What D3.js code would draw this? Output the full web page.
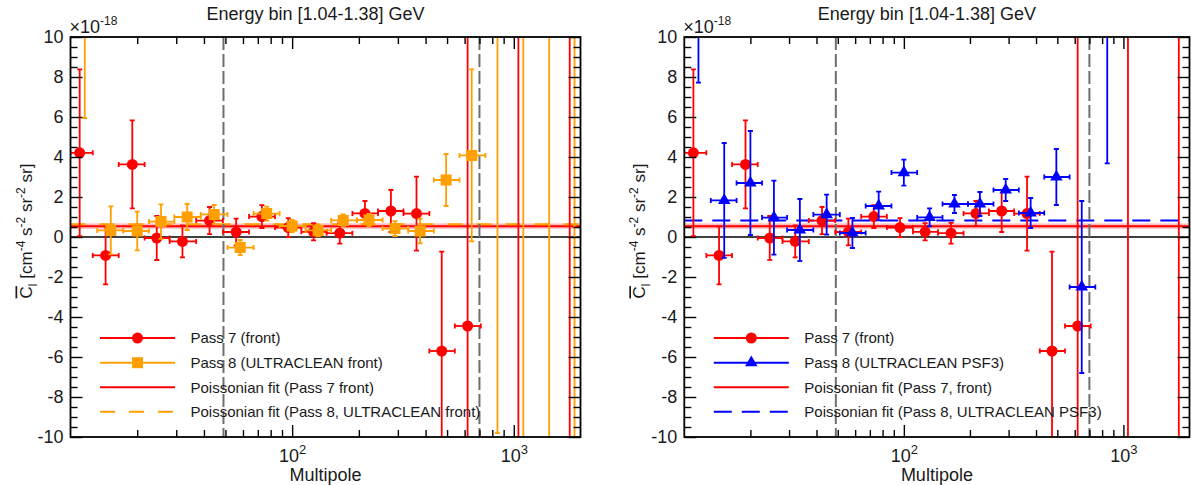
<!DOCTYPE html>
<html><head><meta charset="utf-8">
<script src="https://cdn.jsdelivr.net/npm/d3@7"></script>
<style>
body{margin:0;background:#fff;}
svg{display:block;font-family:"Liberation Sans",Arial,Helvetica,sans-serif;}
</style></head><body>
<svg id="chart" width="1191" height="485"></svg>
<script>
// ================= DATA =================
const titleText = "Energy bin [1.04-1.38] GeV";
const xLabelText = "Multipole";
const xMajorTicks = [100, 1000];
const xMajorExp = ["2", "3"];
const yMajorTicks = [-10, -8, -6, -4, -2, 0, 2, 4, 6, 8, 10];
const yTickLabels = ["-10", "-8", "-6", "-4", "-2", "0", "2", "4", "6", "8", "10"];
const yScaleExp = "-18";
const cutLines = [49, 700];

// Pass 7 (front) - same in both panels
const p7_l    = [11.0, 14.4, 19.0, 24.5, 32.0, 42.4, 55.9, 73.0, 96.0, 125, 164, 213, 279, 364, 473, 619, 1049, 1788];
const p7_lmin = [10.0, 12.6, 16.5, 21.6, 28.0, 36.9, 48.7, 63.9, 83.7, 110, 143, 187, 244, 318, 416, 542, 928, 1568];
const p7_lmax = [12.6, 16.5, 21.6, 28.0, 36.9, 48.7, 63.9, 83.7, 110, 143, 187, 244, 318, 416, 542, 710, 1212, 2045];
const p7_c    = [4.21, -0.92, 3.63, -0.05, -0.22, 0.82, 0.25, 1.02, 0.47, 0.26, 0.19, 1.18, 1.30, 1.17, -5.70, -4.45, 18, -16];
const p7_err  = [4.17, 1.45, 2.20, 1.10, 0.80, 0.68, 0.67, 0.57, 0.47, 0.43, 0.52, 0.62, 1.05, 1.85, 4.97, 16, 35, 35];

// Pass 8 binning (shared by both Pass 8 selections)
const p8_l    = [11.6, 15.2, 20.0, 25.6, 33.6, 44.5, 58.3, 76.8, 100, 131, 170, 222, 291, 378, 495, 646, 844, 1104, 1445, 1880];
const p8_lmin = [10.5, 13.2, 17.3, 22.6, 29.4, 38.7, 51.1, 67.0, 87.8, 115, 150, 196, 256, 334, 436, 569, 745, 974, 1271, 1645];
const p8_lmax = [13.2, 17.3, 22.6, 29.4, 38.7, 51.1, 67.0, 87.8, 115, 150, 196, 256, 334, 436, 569, 745, 974, 1271, 1645, 2145];

// Pass 8 (ULTRACLEAN front)
const p8f_c   = [13, 0.33, 0.30, 0.77, 1.00, 1.13, -0.53, 1.17, 0.55, 0.33, 0.83, 0.85, 0.42, 0.30, 2.85, 4.08, 14, -15, 20, -20];
const p8f_err = [7.05, 1.20, 0.97, 0.86, 0.65, 0.47, 0.38, 0.35, 0.30, 0.30, 0.30, 0.30, 0.37, 0.62, 1.30, 4.30, 23.8, 30, 40, 40];

// Pass 8 (ULTRACLEAN PSF3)
const p8p_c   = [14, 1.83, 2.70, 0.97, 0.35, 1.12, 0.20, 1.55, 3.22, 0.98, 1.65, 1.65, 2.35, 1.20, 3.00, -2.50, 15];
const p8p_err = [6.28, 2.87, 2.60, 1.85, 1.55, 1.00, 0.75, 0.72, 0.65, 0.45, 0.45, 0.60, 0.55, 0.75, 1.40, 4.30, 11.32];

// Poissonian fits
const fitP7 = 0.54, fitP7Lo = 0.41, fitP7Hi = 0.68;
const fitP8front = 0.64;
const fitP8psf3 = 0.83;

// ================= STYLE / LAYOUT =================
const RED = "#ff0000", ORANGE = "#ffa000", BLUE = "#0000ff", GRAY = "#6e6e6e";
const yTop = 37, yBot = 437;
const FONT = 18;

const svg = d3.select("#chart");

const seriesP7 = {l: p7_l, lmin: p7_lmin, lmax: p7_lmax, c: p7_c, err: p7_err, color: RED, sym: d3.symbolCircle, size: 95};
const seriesP8F = {l: p8_l, lmin: p8_lmin, lmax: p8_lmax, c: p8f_c, err: p8f_err, color: ORANGE, sym: d3.symbolSquare, size: 121};
const seriesP8P = {l: p8_l, lmin: p8_lmin, lmax: p8_lmax, c: p8p_c, err: p8p_err, color: BLUE, sym: d3.symbolTriangle, size: 68};

const panels = [
  {id: "L", x0: 70.5, x1: 580.5, series: [seriesP7, seriesP8F],
   fits: [{v: fitP8front, color: ORANGE, dash: "15,14"}],
   legend: [
     {t: "Pass 7 (front)", color: RED, sym: d3.symbolCircle, size: 95},
     {t: "Pass 8 (ULTRACLEAN front)", color: ORANGE, sym: d3.symbolSquare, size: 121},
     {t: "Poissonian fit (Pass 7 front)", color: RED},
     {t: "Poissonian fit (Pass 8, ULTRACLEAN front)", color: ORANGE, dash: "15,14"}
   ]},
  {id: "R", x0: 684.3, x1: 1189.5, series: [seriesP7, seriesP8P],
   fits: [{v: fitP8psf3, color: BLUE, dash: "18,10"}],
   legend: [
     {t: "Pass 7 (front)", color: RED, sym: d3.symbolCircle, size: 95},
     {t: "Pass 8 (ULTRACLEAN PSF3)", color: BLUE, sym: d3.symbolTriangle, size: 68},
     {t: "Poissonian fit (Pass 7, front)", color: RED},
     {t: "Poissonian fit (Pass 8, ULTRACLEAN PSF3)", color: BLUE, dash: "18,10"}
   ]}
];

const defs = svg.append("defs");

panels.forEach(p => {
  const x = d3.scaleLog().domain([10, 2000]).range([p.x0, p.x1]);
  const y = d3.scaleLinear().domain([-10, 10]).range([yBot, yTop]);
  const g = svg.append("g");
  defs.append("clipPath").attr("id", "clip" + p.id)
    .append("rect").attr("x", p.x0).attr("y", yTop).attr("width", p.x1 - p.x0).attr("height", yBot - yTop);
  const plot = g.append("g").attr("clip-path", `url(#clip${p.id})`);

  // Pass 7 fit band + line
  plot.append("rect").attr("x", p.x0).attr("width", p.x1 - p.x0)
    .attr("y", y(fitP7Hi)).attr("height", y(fitP7Lo) - y(fitP7Hi)).attr("fill", "#ffbcbc");
  plot.append("line").attr("x1", p.x0).attr("x2", p.x1).attr("y1", y(fitP7)).attr("y2", y(fitP7))
    .attr("stroke", RED).attr("stroke-width", 2);
  p.fits.forEach(f => {
    plot.append("line").attr("x1", p.x0).attr("x2", p.x1).attr("y1", y(f.v)).attr("y2", y(f.v))
      .attr("stroke", f.color).attr("stroke-width", 2).attr("stroke-dasharray", f.dash);
  });
  // zero line
  plot.append("line").attr("x1", p.x0).attr("x2", p.x1).attr("y1", y(0)).attr("y2", y(0))
    .attr("stroke", "#000").attr("stroke-width", 1.4);
  // cut lines
  plot.selectAll("line.cut").data(cutLines).join("line").attr("class", "cut")
    .attr("x1", d => x(d)).attr("x2", d => x(d)).attr("y1", yTop).attr("y2", yBot)
    .attr("stroke", GRAY).attr("stroke-width", 2).attr("stroke-dasharray", "13,4");

  // data series
  p.series.forEach(s => {
    const idx = d3.range(s.c.length);
    const sg = plot.append("g").attr("stroke", s.color).attr("stroke-width", 1.8).attr("fill", "none");
    idx.forEach(i => {
      const cx = x(s.l[i]), cy = y(s.c[i]);
      const yl = y(s.c[i] - s.err[i]), yh = y(s.c[i] + s.err[i]);
      const xl = x(s.lmin[i]), xh = x(s.lmax[i]);
      sg.append("line").attr("x1", cx).attr("x2", cx).attr("y1", yl).attr("y2", yh);
      sg.append("line").attr("x1", cx - 2.5).attr("x2", cx + 2.5).attr("y1", yl).attr("y2", yl);
      sg.append("line").attr("x1", cx - 2.5).attr("x2", cx + 2.5).attr("y1", yh).attr("y2", yh);
      sg.append("line").attr("x1", xl).attr("x2", xh).attr("y1", cy).attr("y2", cy);
      sg.append("line").attr("x1", xl).attr("x2", xl).attr("y1", cy - 2.5).attr("y2", cy + 2.5);
      sg.append("line").attr("x1", xh).attr("x2", xh).attr("y1", cy - 2.5).attr("y2", cy + 2.5);
    });
    plot.append("g").selectAll("path").data(idx).join("path")
      .attr("d", d3.symbol().type(s.sym).size(s.size))
      .attr("transform", i => `translate(${x(s.l[i])},${y(s.c[i])})`)
      .attr("fill", s.color);
  });

  // legend
  const lg = g.append("g");
  const legY = [338, 362.7, 387.3, 411.7];
  p.legend.forEach((e, k) => {
    const ly = legY[k];
    lg.append("line").attr("x1", p.x0 + 29.5).attr("x2", p.x0 + 104.5).attr("y1", ly).attr("y2", ly)
      .attr("stroke", e.color).attr("stroke-width", 2).attr("stroke-dasharray", e.dash || null);
    if (e.sym) lg.append("path").attr("d", d3.symbol().type(e.sym).size(e.size)())
      .attr("transform", `translate(${p.x0 + 67},${ly})`).attr("fill", e.color);
    lg.append("text").attr("x", p.x0 + 120).attr("y", ly + 5.3).attr("font-size", 15).attr("fill", "#1a1a1a").text(e.t);
  });

  // frame
  g.append("rect").attr("x", p.x0).attr("y", yTop).attr("width", p.x1 - p.x0).attr("height", yBot - yTop)
    .attr("fill", "none").attr("stroke", "#000").attr("stroke-width", 1.8);

  // axes
  const yMinor = y.ticks(40).filter(v => yMajorTicks.indexOf(v) < 0);
  const xMinor = x.ticks().filter(v => xMajorTicks.indexOf(v) < 0 && v > 10 && v < 2000);
  const clean = a => { a.select(".domain").remove(); a.selectAll("line").attr("stroke", "#000").attr("stroke-width", 1.4); };

  const left = g.append("g").attr("transform", `translate(${p.x0},0)`)
    .call(d3.axisLeft(y).tickValues(yMajorTicks).tickSize(-12).tickPadding(7).tickFormat((d, i) => yTickLabels[i]));
  clean(left);
  left.attr("font-size", FONT).attr("font-family", null);
  left.selectAll("text").attr("fill", "#1a1a1a");
  g.append("g").attr("transform", `translate(${p.x0},0)`)
    .call(d3.axisLeft(y).tickValues(yMinor).tickSize(-7).tickFormat("")).call(clean);
  g.append("g").attr("transform", `translate(${p.x1},0)`)
    .call(d3.axisRight(y).tickValues(yMajorTicks).tickSize(-12).tickFormat("")).call(clean);
  g.append("g").attr("transform", `translate(${p.x1},0)`)
    .call(d3.axisRight(y).tickValues(yMinor).tickSize(-7).tickFormat("")).call(clean);

  const bottom = g.append("g").attr("transform", `translate(0,${yBot})`)
    .call(d3.axisBottom(x).tickValues(xMajorTicks).tickSize(-12).tickPadding(12).tickFormat(() => ""));
  clean(bottom);
  bottom.attr("font-size", FONT).attr("font-family", null);
  bottom.selectAll(".tick text").each(function(d, i) {
    const t = d3.select(this).attr("fill", "#1a1a1a");
    t.append("tspan").text("10");
    t.append("tspan").attr("dy", -8).attr("font-size", 13).text(xMajorExp[i]);
  });
  g.append("g").attr("transform", `translate(0,${yBot})`)
    .call(d3.axisBottom(x).tickValues(xMinor).tickSize(-7).tickFormat("")).call(clean);
  g.append("g").attr("transform", `translate(0,${yTop})`)
    .call(d3.axisTop(x).tickValues(xMajorTicks).tickSize(-12).tickFormat("")).call(clean);
  g.append("g").attr("transform", `translate(0,${yTop})`)
    .call(d3.axisTop(x).tickValues(xMinor).tickSize(-7).tickFormat("")).call(clean);

  // x10^-18
  const ex = g.append("text").attr("x", p.x0 - 1).attr("y", 33).attr("font-size", FONT).attr("fill", "#1a1a1a");
  ex.append("tspan").text("\u00d710");
  ex.append("tspan").attr("dy", -8).attr("font-size", 12).text(yScaleExp);

  // title
  g.append("text").attr("x", (p.x0 + p.x1) / 2 - 10).attr("y", 20).attr("text-anchor", "middle")
    .attr("font-size", FONT).attr("fill", "#1a1a1a").text(titleText);
  // x label
  g.append("text").attr("x", (p.x0 + p.x1) / 2).attr("y", 481).attr("text-anchor", "middle")
    .attr("font-size", FONT).attr("fill", "#1a1a1a").text(xLabelText);
  // y label
  const yl = g.append("text").attr("transform", `translate(${p.x0 - 39},231) rotate(-90)`)
    .attr("text-anchor", "middle").attr("font-size", 17).attr("fill", "#1a1a1a");
  yl.append("tspan").attr("text-decoration", "overline").style("text-decoration", "overline").text("C");
  yl.append("tspan").attr("dy", 5).attr("font-size", 12).text("l");
  yl.append("tspan").attr("dy", -5).text(" [cm");
  yl.append("tspan").attr("dy", -7).attr("font-size", 12).text("-4");
  yl.append("tspan").attr("dy", 7).text(" s");
  yl.append("tspan").attr("dy", -7).attr("font-size", 12).text("-2");
  yl.append("tspan").attr("dy", 7).text(" sr");
  yl.append("tspan").attr("dy", -7).attr("font-size", 12).text("-2");
  yl.append("tspan").attr("dy", 7).text(" sr]");
});
</script>
</body></html>
